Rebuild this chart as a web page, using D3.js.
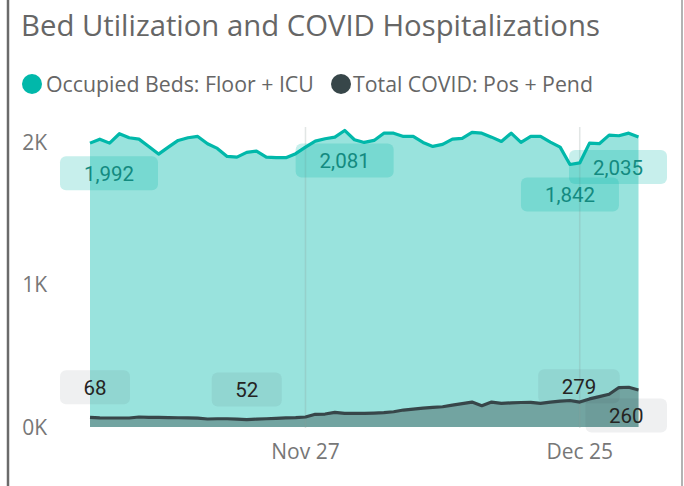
<!DOCTYPE html>
<html lang="en">
<head>
<meta charset="UTF-8">
<script src="https://cdnjs.cloudflare.com/ajax/libs/d3/7.6.1/d3.min.js"></script>
<style>
  body { margin: 0; background: #fff; }
  svg { display: block; }
</style>
</head>
<body>
<div id="container"></div>
<script>
// ---------------- data ----------------
const startDay = new Date(2020, 10, 5)   // Nov 5
const endDay = new Date(2020, 11, 31)    // Dec 31
const days = d3.timeDay.range(startDay, d3.timeDay.offset(endDay, 1))

// Occupied Beds: Floor + ICU
const occupiedBeds = [
  1992, 2020, 1992, 2058, 2030, 2020, 1969, 1915, 1964, 2011,
  2030, 2039, 1988, 1955, 1899, 1894, 1927, 1936, 1894, 1890,
  1890, 1918, 1964, 2006, 2023, 2034, 2081, 2016, 1997, 2011,
  2062, 2062, 2039, 2039, 1997, 1969, 1983, 2020, 2025, 2067,
  2062, 2034, 2004, 2062, 1997, 2039, 2039, 1999, 1964, 1842,
  1853, 1992, 1988, 2048, 2044, 2062, 2035
]
// Total COVID: Pos + Pend
const totalCovid = [
  68, 64, 63, 63, 63, 70, 68, 67, 66, 65,
  64, 62, 56, 58, 58, 55, 52, 55, 58, 61,
  64, 66, 70, 89, 91, 103, 96, 96, 96, 98,
  101, 107, 119, 126, 133, 138, 142, 154, 164, 175,
  149, 175, 166, 169, 172, 173, 166, 175, 182, 186,
  175, 197, 213, 230, 277, 279, 260
]

const seriesNames = ["Occupied Beds: Floor + ICU", "Total COVID: Pos + Pend"]
const yTicks = [0, 1000, 2000]
const xTicks = [new Date(2020, 10, 27), new Date(2020, 11, 25)]

// data labels: [series, index]
const labelPoints = [
  [0, 0], [0, 26], [0, 49], [0, 56],
  [1, 0], [1, 16], [1, 55], [1, 56]
]

// ---------------- setup ----------------
const W = 684, H = 486
const teal = "#01B8AA", dark = "#374649"
const uiFont = "'Open Sans', sans-serif"

const svg = d3.select("#container").append("svg")
  .attr("width", W).attr("height", H)

const x = d3.scaleTime().domain([startDay, endDay]).range([90, 638.5])
const y = d3.scaleLinear().domain([0, 2000]).range([427, 142])

// frame
svg.append("line").attr("x1", 8).attr("x2", 8).attr("y1", 0).attr("y2", H)
  .attr("stroke", "#6b6b6b").attr("stroke-width", 2.5)
svg.append("line").attr("x1", 682).attr("x2", 682).attr("y1", 0).attr("y2", H)
  .attr("stroke", "#9a9a9a").attr("stroke-width", 1.5)

// title
svg.append("text").attr("x", 21).attr("y", 36)
  .attr("font-family", uiFont).attr("font-size", 29.3)
  .attr("fill", "#666").text("Bed Utilization and COVID Hospitalizations")

// legend
const legend = svg.append("g").attr("font-family", uiFont)
  .attr("font-size", 21.3).attr("fill", "#666")
legend.append("circle").attr("cx", 32).attr("cy", 84).attr("r", 10).attr("fill", teal)
legend.append("text").attr("x", 46).attr("y", 91.5).text(seriesNames[0])
legend.append("circle").attr("cx", 341).attr("cy", 84).attr("r", 10).attr("fill", dark)
legend.append("text").attr("x", 353).attr("y", 91.5).text(seriesNames[1])

// y axis labels
svg.append("g").selectAll("text").data(yTicks).join("text")
  .attr("x", 47).attr("y", d => y(d) + 7.5)
  .attr("text-anchor", "end")
  .attr("font-family", uiFont).attr("font-size", 21)
  .attr("fill", "#777").text(d => (d / 1000) + "K")

// x axis labels
svg.append("g").selectAll("text").data(xTicks).join("text")
  .attr("x", d => x(d)).attr("y", 459)
  .attr("text-anchor", "middle")
  .attr("font-family", uiFont).attr("font-size", 21)
  .attr("fill", "#777").text(d3.timeFormat("%b %-d"))

// areas
const area0 = d3.area().x((d, i) => x(days[i])).y0(y(0)).y1(d => y(d))
const line0 = d3.line().x((d, i) => x(days[i])).y(d => y(d))

svg.append("path").attr("d", area0(occupiedBeds))
  .attr("fill", teal).attr("fill-opacity", 0.4)
svg.append("path").attr("d", area0(totalCovid))
  .attr("fill", dark).attr("fill-opacity", 0.4)

// vertical gridlines
svg.append("g").selectAll("line").data(xTicks).join("line")
  .attr("x1", d => x(d)).attr("x2", d => x(d))
  .attr("y1", 127).attr("y2", 428)
  .attr("stroke", "#8a9a98").attr("stroke-opacity", 0.25).attr("stroke-width", 1.5)

// lines
svg.append("path").attr("d", line0(occupiedBeds))
  .attr("fill", "none").attr("stroke", teal).attr("stroke-width", 3.2)
  .attr("stroke-linejoin", "round")
svg.append("path").attr("d", line0(totalCovid))
  .attr("fill", "none").attr("stroke", dark).attr("stroke-width", 3.2)
  .attr("stroke-linejoin", "round")

// data labels
const fmt = d3.format(",")
const labelG = svg.append("g").attr("font-family", "Roboto, sans-serif").attr("font-size", 20.5)
const boxH = 34

labelPoints.forEach(([s, i]) => {
  const v = s === 0 ? occupiedBeds[i] : totalCovid[i]
  const px = x(days[i]), py = y(v)
  const txt = fmt(v)
  const w = txt.replace(",", "").length * 11.5 + (txt.includes(",") ? 5 : 0) + 47
  let cx = px, top
  if (s === 0) {
    top = py + 13
  } else if (i === 55) {
    cx = px - 9 - w / 2
    top = py - boxH / 2 - 1
  } else if (i === 56) {
    top = py + 8.5
  } else {
    top = py - 13 - boxH
  }
  cx = Math.max(60 + w / 2, Math.min(667 - w / 2, cx))
  labelG.append("rect")
    .attr("x", cx - w / 2).attr("y", top).attr("width", w).attr("height", boxH)
    .attr("rx", 6)
    .attr("fill", s === 0 ? teal : dark)
    .attr("fill-opacity", s === 0 ? 0.22 : 0.08)
  labelG.append("text")
    .attr("x", cx).attr("y", top + boxH / 2 + 7.5)
    .attr("text-anchor", "middle")
    .attr("fill", s === 0 ? "#138a80" : "#252423")
    .text(txt)
})
</script>
</body>
</html>
